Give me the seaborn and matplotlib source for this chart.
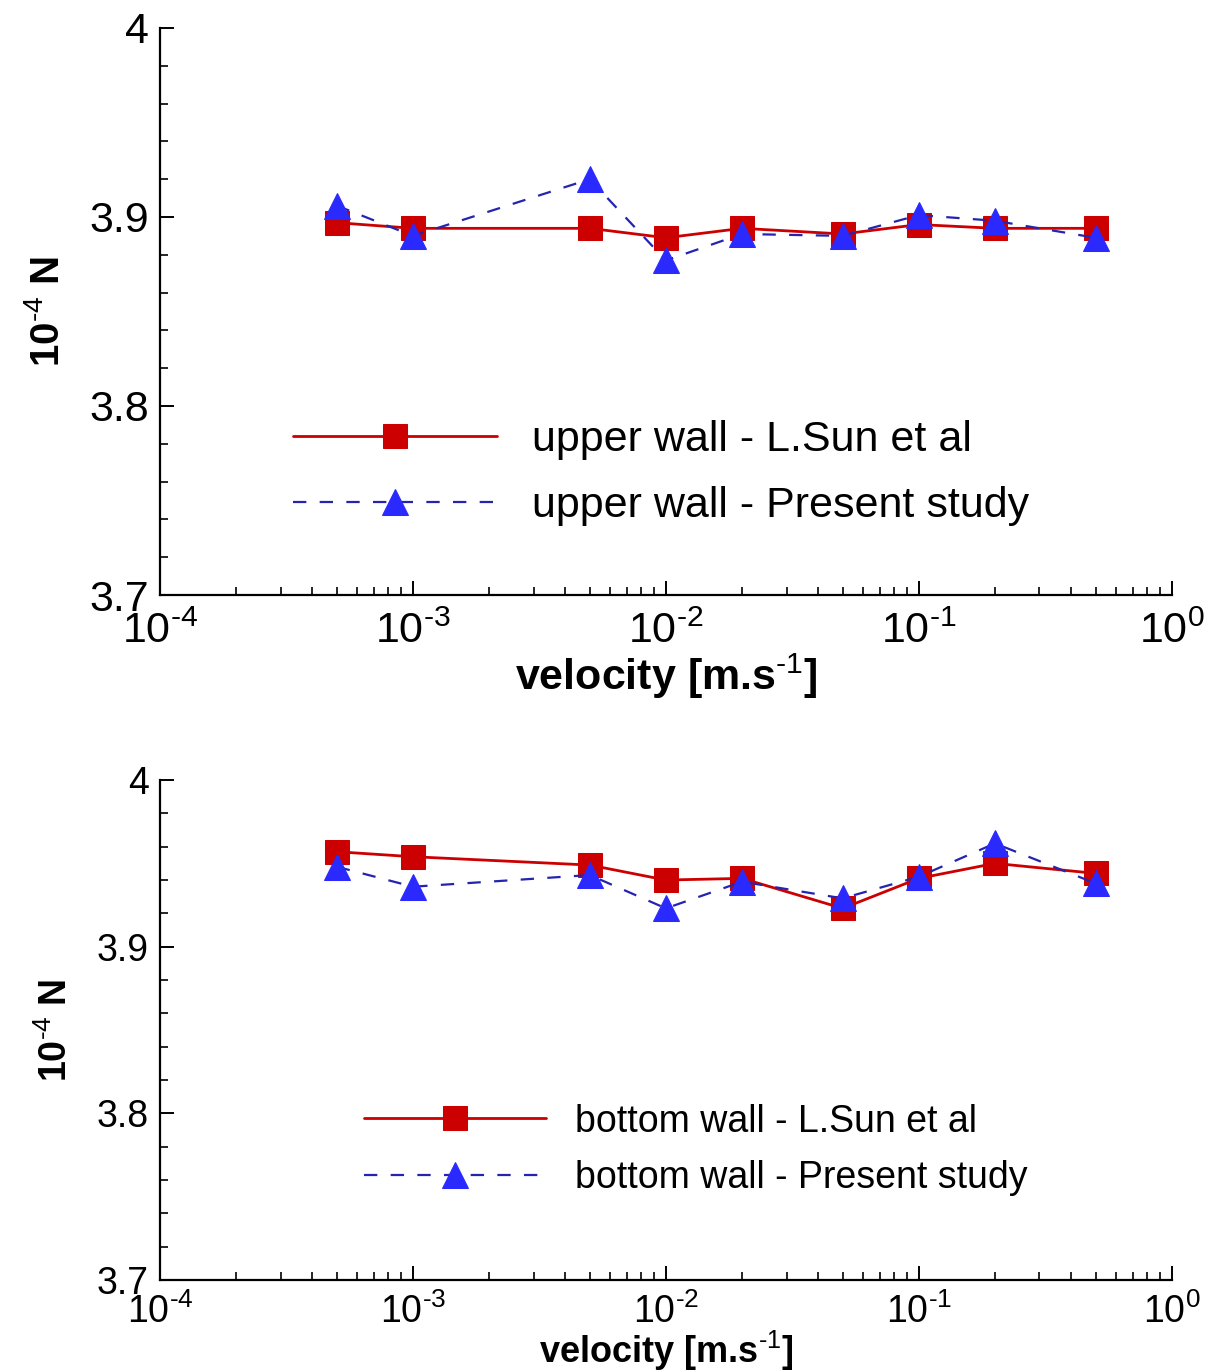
import numpy as np
import pandas as pd
import seaborn as sns
import matplotlib
matplotlib.use("Agg")
import matplotlib.pyplot as plt
from matplotlib.ticker import LogLocator, MultipleLocator, FuncFormatter, NullFormatter

# velocity values [m/s]
velocity = [5e-4, 1e-3, 5e-3, 1e-2, 2e-2, 5e-2, 1e-1, 2e-1, 5e-1]

# upper wall force (1e-4 N)
upper_sun = [3.897, 3.894, 3.894, 3.889, 3.894, 3.891, 3.896, 3.894, 3.894]
upper_present = [3.906, 3.890, 3.920, 3.877, 3.891, 3.890, 3.901, 3.898, 3.889]

# bottom wall force (1e-4 N)
bottom_sun = [3.957, 3.954, 3.949, 3.940, 3.941, 3.923, 3.941, 3.950, 3.944]
bottom_present = [3.948, 3.936, 3.943, 3.923, 3.939, 3.929, 3.942, 3.962, 3.938]

x_ticks = [1e-4, 1e-3, 1e-2, 1e-1, 1e0]
x_ticklabels = [r"10$^{\text{-}4}$", r"10$^{\text{-}3}$", r"10$^{\text{-}2}$",
                r"10$^{\text{-}1}$", r"10$^{0}$"]

sns.set_style("white")
plt.rcParams['font.family'] = ['Liberation Sans', 'DejaVu Sans']
plt.rcParams['mathtext.fontset'] = 'custom'
plt.rcParams['mathtext.rm'] = 'Liberation Sans'
plt.rcParams['mathtext.it'] = 'Liberation Sans'
plt.rcParams['mathtext.bf'] = 'Liberation Sans:bold'
plt.rcParams['text.color'] = 'black'
plt.rcParams['axes.labelcolor'] = 'black'
plt.rcParams['xtick.color'] = 'black'
plt.rcParams['ytick.color'] = 'black'

RED = "#cc0000"
BLUE_M = "#2a2aff"
BLUE_L = "#2424b0"

fig = plt.figure(figsize=(12.18, 13.71), dpi=100)
ax1 = fig.add_axes([0.1314, 0.566, 0.8306, 0.4136])
ax2 = fig.add_axes([0.1314, 0.0665, 0.8306, 0.3645])


def draw_panel(ax, sun, present, wall, fs, lab_fs, ylab_fs, leg_fs, leg_anchor,
               handlelen, textpad, spacing, xpad, tickpad):
    df = pd.DataFrame({"velocity": velocity, "sun": sun, "present": present})
    sns.lineplot(data=df, x="velocity", y="sun", ax=ax, color=RED, lw=2,
                 marker="s", markersize=17, markeredgecolor=RED, markerfacecolor=RED,
                 label=f"{wall} wall - L.Sun et al")
    sns.lineplot(data=df, x="velocity", y="present", ax=ax, color=BLUE_L, lw=1.6,
                 linestyle=(0, (6, 6)), marker="^", markersize=19,
                 markeredgecolor=BLUE_M, markerfacecolor=BLUE_M,
                 label=f"{wall} wall - Present study")
    ax.set_xscale("log")
    ax.set_xlim(1e-4, 1e0)
    ax.set_ylim(3.7, 4.0)
    ax.set_xticks(x_ticks)
    ax.set_xticklabels(x_ticklabels)
    ax.xaxis.set_minor_locator(LogLocator(base=10, subs=np.arange(2, 10)))
    ax.xaxis.set_minor_formatter(NullFormatter())
    ax.yaxis.set_major_locator(MultipleLocator(0.1))
    ax.yaxis.set_minor_locator(MultipleLocator(0.02))
    ax.yaxis.set_major_formatter(FuncFormatter(lambda v, p: f"{v:g}"))
    for s in ["top", "right"]:
        ax.spines[s].set_visible(False)
    for s in ["left", "bottom"]:
        ax.spines[s].set_linewidth(1.6)
        ax.spines[s].set_color("black")
    ax.tick_params(axis="both", which="both", bottom=True, left=True,
                   top=False, right=False, direction="in", color="black")
    ax.tick_params(axis="both", which="major", length=10, width=1.4, labelsize=fs)
    ax.tick_params(axis="both", which="minor", length=6, width=1.2)
    ax.tick_params(axis="y", which="major", pad=8)
    ax.tick_params(axis="x", which="major", pad=tickpad)
    ax.set_xlabel(r"velocity [m.s$^{\text{-}1}$]", fontsize=lab_fs, fontweight="bold",
                  labelpad=xpad)
    ax.set_ylabel(r"10$^{\text{-}4}$ N", fontsize=ylab_fs, fontweight="bold", labelpad=16)
    ax.legend(loc="center left", bbox_to_anchor=leg_anchor, frameon=False,
              fontsize=leg_fs, numpoints=1, handlelength=handlelen,
              handletextpad=textpad, labelspacing=spacing)


draw_panel(ax1, upper_sun, upper_present, "upper", 31, 31, 29, 31, (0.093, 0.215),
           4.75, 0.8, 0.6, 0, 12)
draw_panel(ax2, bottom_sun, bottom_present, "bottom", 27, 26, 27, 27, (0.168, 0.26),
           4.85, 0.77, 0.55, -2, 10)

fig.savefig("out.png", dpi=100)
